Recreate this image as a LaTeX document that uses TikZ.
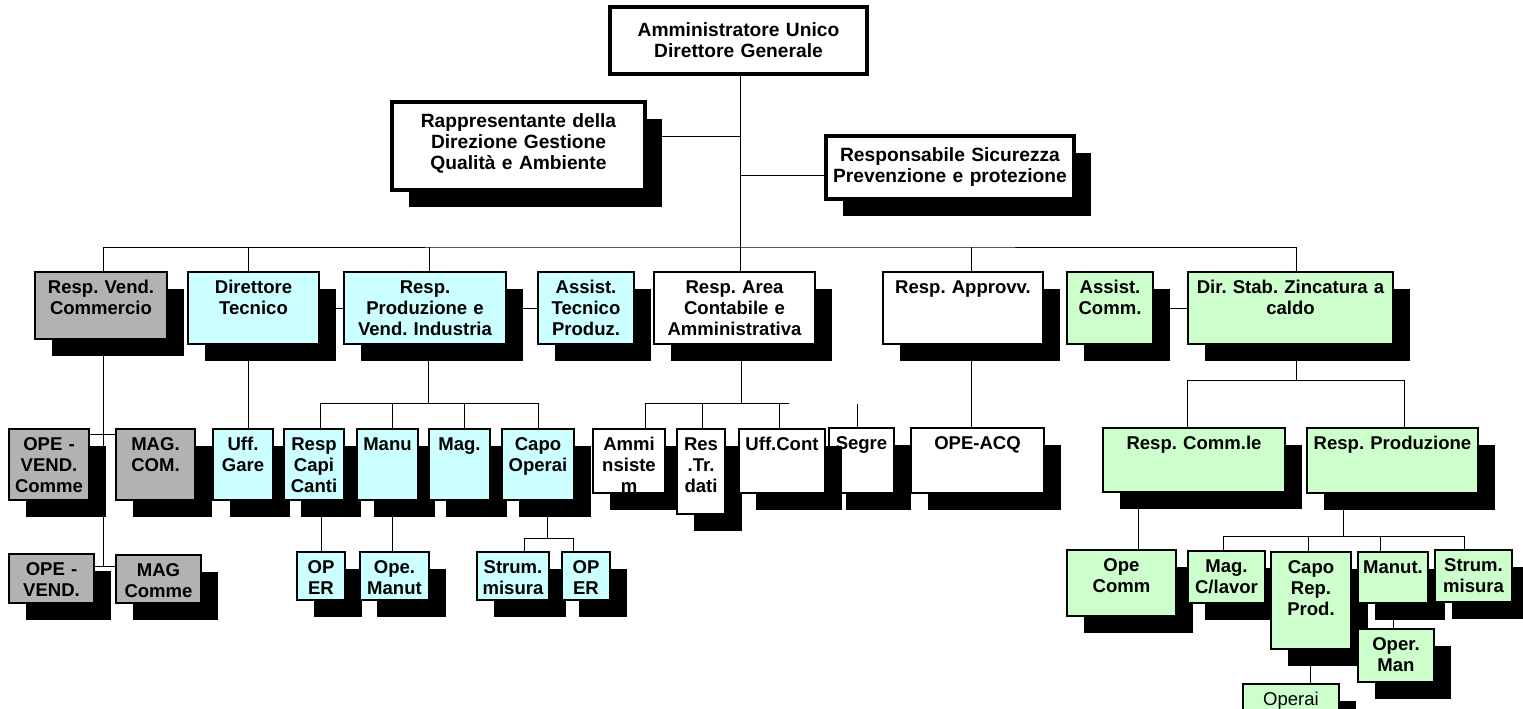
\documentclass[tikz,border=0pt]{standalone}
\usepackage{fontspec}
\setmainfont{Liberation Sans}
\usetikzlibrary{shadows,backgrounds}

\definecolor{grigio}{RGB}{178,178,178}
\definecolor{azzurro}{RGB}{204,255,255}
\definecolor{verde}{RGB}{204,255,204}

\tikzset{every picture/.style={line width=0.75pt}}
\tikzset{
  riga/.code={\def\primariga{#1}},
  casella/.code 2 args={%
    \pgfmathsetlengthmacro\casW{#1*0.75pt}%
    \pgfmathsetlengthmacro\casD{#2*0.75pt-\primariga}%
    \pgfkeysalso{text width=\casW,minimum width=\casW,text height=\primariga,text depth=\casD}},
  base/.style={draw,fill=white,anchor=north west,inner sep=0pt,align=center},
  ombra/.style={drop shadow={shadow xshift=12.5pt,shadow yshift=-12.5pt,fill=black,opacity=1}},
  vertice/.style={base,line width=3pt,riga=18.75pt,font=\fontsize{14.4}{16}\selectfont\bfseries\frenchspacing},
  ufficio/.style={base,ombra,line width=1.5pt,riga=16pt,font=\fontsize{13.9}{15.9}\selectfont\bfseries\frenchspacing},
}

\begin{document}
\begin{tikzpicture}[x=0.75pt,y=0.75pt,yscale=-1,xscale=1]
\useasboundingbox (0,0) rectangle (1523,708);

% Vertice
\node[vertice,riga=21.75pt,casella={257}{67}] (ammin) at (608,5) {Amministratore Unico\\Direttore Generale};
\node[vertice,ombra,casella={253}{88}] (rapp) at (390,100) {Rappresentante della\\Direzione Gestione\\Qualità e Ambiente};
\node[vertice,ombra,casella={248}{63}] (sicur) at (824,134) {Responsabile Sicurezza\\Prevenzione e protezione};

% Primo livello
\node[ufficio,fill=grigio,casella={132}{67}] (vend) at (34,271) {Resp. Vend.\\Commercio};
\node[ufficio,fill=azzurro,casella={131}{72}] (dirtec) at (187,271) {Direttore\\Tecnico};
\node[ufficio,fill=azzurro,casella={162}{72}] (prodind) at (343,271) {Resp.\\Produzione e\\Vend. Industria};
\node[ufficio,fill=azzurro,casella={96}{72}] (asstec) at (537,271) {Assist.\\Tecnico\\Produz.};
\node[ufficio,casella={161}{72}] (contab) at (653,271) {Resp. Area\\Contabile e\\Amministrativa};
\node[ufficio,casella={160}{72}] (approvv) at (882,271) {Resp. Approvv.};
\node[ufficio,fill=verde,casella={86}{72}] (asscomm) at (1066,271) {Assist.\\Comm.};
\node[ufficio,fill=verde,casella={205}{72}] (dirstab) at (1187,271) {Dir. Stab. Zincatura a\\caldo};

% Secondo livello
\node[ufficio,fill=grigio,casella={80}{71}] (opevc) at (8,428) {OPE -\\VEND.\\Comme};
\node[ufficio,fill=grigio,casella={79}{71}] (magcom) at (115,428) {MAG.\\COM.};
\node[ufficio,fill=azzurro,casella={60}{71}] (uffgare) at (212,428) {Uff.\\Gare};
\node[ufficio,fill=azzurro,casella={60}{71}] (capi) at (283,428) {Resp\\Capi\\Canti};
\node[ufficio,fill=azzurro,casella={61}{71}] (manu) at (356,428) {Manu};
\node[ufficio,fill=azzurro,casella={61}{71}] (mag) at (428,428) {Mag.};
\node[ufficio,fill=azzurro,casella={72}{71}] (capo) at (501,428) {Capo\\Operai};
\node[ufficio,casella={72}{64}] (ammi) at (592,428) {Ammi\\nsiste\\m};
\node[ufficio,casella={48}{85}] (restr) at (676,428) {Res\\.Tr.\\dati};
\node[ufficio,casella={65}{65}] (segre) at (828,427) {Segre};
\node[ufficio,casella={86}{64}] (uffcont) at (738,428) {Uff.Cont};
\node[ufficio,casella={133}{65}] (opeacq) at (910,427) {OPE-ACQ};
\node[ufficio,fill=verde,casella={182}{64}] (commle) at (1102,427) {Resp. Comm.le};
\node[ufficio,fill=verde,casella={171}{65}] (prodz) at (1306,427) {Resp. Produzione};

% Terzo livello
\node[ufficio,fill=grigio,casella={85}{49}] (opev) at (8,553) {OPE -\\VEND.};
\node[ufficio,fill=grigio,casella={85}{48}] (magc) at (115,554) {MAG\\Comme};
\node[ufficio,fill=azzurro,casella={48}{48}] (oper1) at (296,551) {OP\\ER};
\node[ufficio,fill=azzurro,casella={69}{48}] (opeman) at (359,551) {Ope.\\Manut};
\node[ufficio,fill=azzurro,casella={72}{48}] (strum1) at (476,551) {Strum.\\misura};
\node[ufficio,fill=azzurro,casella={48}{48}] (oper2) at (561,551) {OP\\ER};
\node[ufficio,fill=verde,casella={109}{66}] (opecomm) at (1066,549) {Ope\\Comm};
\node[ufficio,fill=verde,casella={77}{52}] (magcl) at (1187,550) {Mag.\\C/lavor};
\node[ufficio,fill=verde,casella={80}{97}] (caporep) at (1270,551) {Capo\\Rep.\\Prod.};
\node[ufficio,fill=verde,casella={70}{51}] (manut) at (1357,551) {Manut.};
\node[ufficio,fill=verde,casella={77}{52}] (strum2) at (1434,549) {Strum.\\misura};
\node[ufficio,fill=verde,casella={76}{53}] (operman) at (1357,628) {Oper.\\Man};
\node[ufficio,fill=verde,font=\fontsize{13.9}{15.9}\selectfont,casella={96}{40}] (operai) at (1242,683) {Operai};

%Straight Lines
\begin{scope}[on background layer,line width=1pt]
\coordinate (bus) at (740,247);
\draw (ammin.south -| bus) -- (bus) -- (contab.north -| bus);
\draw (rapp.east |- 0,136) -- (bus |- 0,136);
\draw (sicur.west |- 0,175) -- (bus |- 0,175);
\draw (vend.north -| 103,0) |- (bus) -| (dirstab.north -| 1296,0);
\foreach \n/\x in {dirtec/248,prodind/429,approvv/971}
  \draw (\n.north -| \x,0) -- (\x,247);
\draw (dirtec.east |- 0,308) -- (asstec.west |- 0,308);
\draw (asscomm.east |- 0,308) -- (dirstab.west |- 0,308);
% Commercio
\draw (vend.south -| 103,0) -- (103,566);
\draw (opevc.east |- 0,434) -- (magcom.west |- 0,434);
\draw (opev.east |- 0,566) -- (magc.west |- 0,566);
% Tecnico e produzione
\draw (dirtec.south -| 248,0) -- (uffgare.north -| 248,0);
\draw (prodind.south -| 428,0) -- (428,403);
\draw (capi.north -| 320,0) -- (320,403) -- (capo.north |- 0,403) -- (capo.north);
\draw (manu.north -| 392,0) -- (392,403);
\draw (mag.north -| 464,0) -- (464,403);
\draw (capi.south -| oper1.north) -- (oper1.north);
\draw (manu.south -| 392,0) -- (opeman.north -| 392,0);
\draw (capo.south -| 547,0) -- (547,538);
\draw (strum1.north -| 524,0) -- (524,538) -- (573,538) -- (oper2.north -| 573,0);
% Contabilita
\draw (contab.south -| 741,0) -- (741,403);
\draw (ammi.north -| 645,0) -- (645,403) -- (789,403);
\draw (restr.north -| 702,0) -- (702,403);
\draw (uffcont.north -| 779,0) -- (779,403);
\draw (segre.north -| 857,0) -- (857,404);
\draw (approvv.south -| 971,0) -- (opeacq.north -| 971,0);
% Zincatura
\draw (dirstab.south -| 1296,0) -- (1296,380);
\draw (commle.north -| 1187,0) -- (1187,380) -- (1404,380) -- (prodz.north -| 1404,0);
\draw (commle.south -| 1138,0) -- (opecomm.north -| 1138,0);
\draw (prodz.south -| 1343,0) -- (1343,536);
\draw (magcl.north -| 1223,0) -- (1223,536) -- (1464,536) -- (strum2.north -| 1464,0);
\draw (caporep.north -| 1308,0) -- (1308,536);
\draw (manut.north -| 1380,0) -- (1380,536);
\draw (manut.south -| 1393,0) -- (operman.north -| 1393,0);
\draw (caporep.south -| 1310,0) -- (operai.north -| 1310,0);
\end{scope}

\end{tikzpicture}
\end{document}
